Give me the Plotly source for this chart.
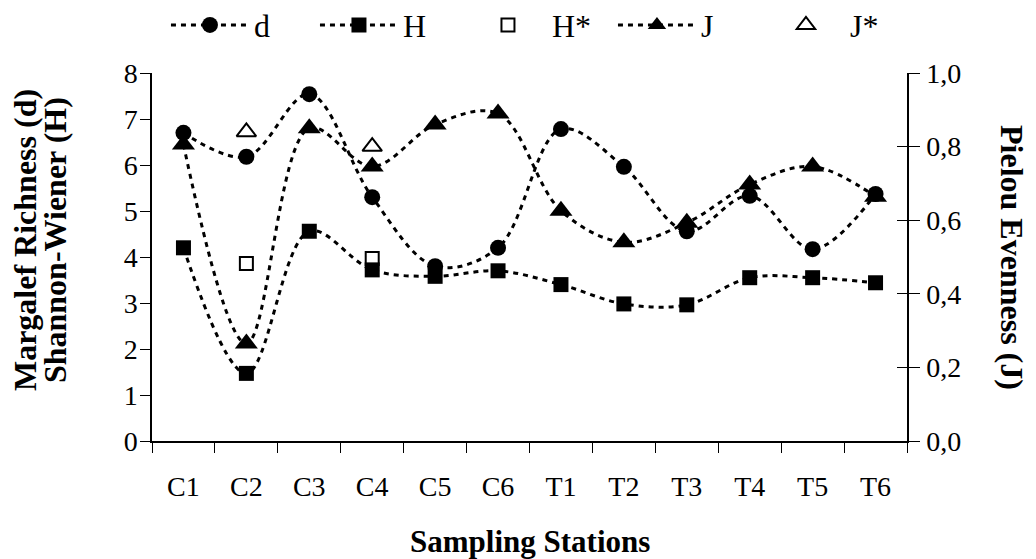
import plotly.graph_objects as go

stations = ["C1", "C2", "C3", "C4", "C5", "C6", "T1", "T2", "T3", "T4", "T5", "T6"]
d_vals = [6.7, 6.18, 7.54, 5.3, 3.8, 4.2, 6.78, 5.96, 4.56, 5.33, 4.17, 5.37]
h_vals = [4.2, 1.47, 4.56, 3.72, 3.58, 3.7, 3.4, 2.98, 2.96, 3.55, 3.55, 3.44]
h_star_st = ["C2", "C4"]
h_star_vals = [3.86, 3.97]
j_vals = [0.806, 0.265, 0.85, 0.746, 0.86, 0.89, 0.626, 0.54, 0.593, 0.697, 0.746, 0.664]
j_star_st = ["C2", "C4"]
j_star_vals = [0.84, 0.80]

left_ticks = [0, 1, 2, 3, 4, 5, 6, 7, 8]
right_tickvals = [0.0, 0.2, 0.4, 0.6, 0.8, 1.0]
right_ticktext = ["0,0", "0,2", "0,4", "0,6", "0,8", "1,0"]

FONT = "Liberation Serif, Times New Roman, serif"
dash = "5px,5px"
LW = 3

fig = go.Figure()
fig.add_trace(go.Scatter(x=stations, y=d_vals, name="d", mode="lines+markers",
                         line=dict(color="black", width=LW, dash=dash, shape="spline", smoothing=1),
                         marker=dict(symbol="circle", size=16, color="black")))
fig.add_trace(go.Scatter(x=stations, y=h_vals, name="H", mode="lines+markers",
                         line=dict(color="black", width=LW, dash=dash, shape="spline", smoothing=1),
                         marker=dict(symbol="square", size=15, color="black")))
fig.add_trace(go.Scatter(x=h_star_st, y=h_star_vals, name="H*", mode="markers",
                         marker=dict(symbol="square-open", size=13, color="black", line=dict(width=2))))
fig.add_trace(go.Scatter(x=stations, y=j_vals, name="J", mode="lines+markers", yaxis="y2",
                         line=dict(color="black", width=LW, dash=dash, shape="spline", smoothing=1),
                         marker=dict(symbol="triangle-up", size=20, color="black")))
fig.add_trace(go.Scatter(x=j_star_st, y=j_star_vals, name="J*", mode="markers", yaxis="y2",
                         marker=dict(symbol="triangle-up-open", size=17, color="black", line=dict(width=2))))
# invisible trace to activate the inner-tick axis
fig.add_trace(go.Scatter(x=[stations[0]], y=[0], yaxis="y3", mode="markers",
                         marker=dict(opacity=0), showlegend=False, hoverinfo="skip"))

axis_common = dict(showline=True, linecolor="black", linewidth=1.5, tickcolor="black",
                   showgrid=False, zeroline=False)

fig.update_layout(
    width=1036, height=559,
    margin=dict(l=152, r=129, t=73, b=118, autoexpand=False),
    paper_bgcolor="white", plot_bgcolor="white",
    font=dict(family=FONT, size=28, color="black"),
    showlegend=True,
    legend=dict(orientation="h", x=0.0185, y=1.13, xanchor="left", yanchor="middle",
                font=dict(size=32), entrywidth=56, itemwidth=78, tracegroupgap=0,
                bgcolor="rgba(0,0,0,0)"),
    xaxis=dict(**axis_common, ticks="outside", ticklen=10, tickson="boundaries",
               tickfont=dict(size=28), range=[-0.5, 11.5], ticklabelstandoff=20),
    yaxis=dict(**axis_common, range=[0, 8], tickvals=left_ticks, ticks="outside", ticklen=10,
               tickfont=dict(size=28), ticklabelstandoff=-3),
    yaxis2=dict(**axis_common, range=[0, 1], overlaying="y", side="right",
                tickvals=right_tickvals, ticktext=right_ticktext, ticks="outside", ticklen=11,
                tickfont=dict(size=28), ticklabelstandoff=1),
    yaxis3=dict(range=[0, 1], overlaying="y", side="right", anchor="x", tickvals=right_tickvals,
                showticklabels=False, ticks="inside", ticklen=10, tickcolor="black",
                showline=False, showgrid=False, zeroline=False),
    annotations=[
        dict(text="<b>Margalef Richness (d)</b>", xref="paper", yref="paper", x=0, y=0.546,
             xanchor="center", yanchor="middle", xshift=-127, textangle=-90, showarrow=False,
             font=dict(size=32, family=FONT)),
        dict(text="<b>Shannon-Wiener (H)</b>", xref="paper", yref="paper", x=0, y=0.546,
             xanchor="center", yanchor="middle", xshift=-97, textangle=-90, showarrow=False,
             font=dict(size=32, family=FONT)),
        dict(text="<b>Pielou Evenness (J)</b>", xref="paper", yref="paper", x=1.0, y=0.5,
             xanchor="center", yanchor="middle", xshift=105, textangle=90, showarrow=False,
             font=dict(size=32, family=FONT)),
        dict(text="<b>Sampling Stations</b>", xref="paper", yref="paper", x=0.5, y=-0.272,
             xanchor="center", yanchor="middle", showarrow=False, font=dict(size=31, family=FONT)),
    ],
)

fig.write_html("out.html")
